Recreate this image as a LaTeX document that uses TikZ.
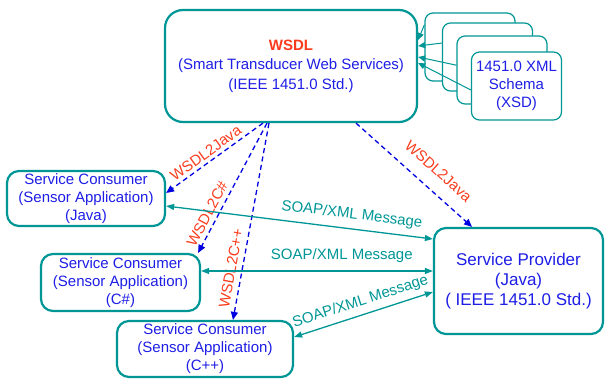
\documentclass[tikz,border=0pt]{standalone}
\usepackage{fontspec}
\setmainfont{Liberation Sans}
\usetikzlibrary{arrows.meta}
\definecolor{teal1}{RGB}{0,150,150}
\definecolor{txtblue}{RGB}{30,30,230}
\definecolor{dashblue}{RGB}{0,0,225}
\definecolor{lblred}{RGB}{250,60,30}
\begin{document}
\begin{tikzpicture}[x=1pt,y=-1pt,
  box/.style={draw=teal1, line width=2.2pt, fill=white, rounded corners=12pt, text=txtblue, align=center, inner sep=0pt, font=\fontsize{15}{18}\selectfont},
  xsd/.style={draw=teal1, line width=1.2pt, fill=white, rounded corners=8pt, minimum width=90pt, minimum height=68pt, inner sep=0pt, text=txtblue, align=center, font=\fontsize{15}{18}\selectfont},
  gen/.style={draw=dashblue, line width=1.3pt, dash pattern=on 5pt off 3.5pt, -{Triangle[length=8pt,width=7pt]}},
  soap/.style={draw=teal1, line width=1.3pt, {Triangle[length=8pt,width=6pt]}-{Triangle[length=8pt,width=6pt]}},
  genlbl/.style={text=lblred, font=\fontsize{15}{18}\selectfont, sloped},
  soaplbl/.style={text=teal1, font=\fontsize{15}{18}\selectfont, sloped},
  tipline/.style={-{Triangle[length=7pt,width=6pt]}, draw=teal1, line width=1pt}
]
\useasboundingbox (0,0) rectangle (605,379);

% WSDL box
\node[box, rounded corners=18pt, minimum width=252pt, minimum height=112pt, font=\fontsize{15}{19.5}\selectfont] (wsdl) at (291,66)
  {{\bfseries\color{lblred}WSDL}\\(Smart Transducer Web Services)\\(IEEE 1451.0 Std.)};

% XSD stack
\node[xsd] (s1) at (470,47) {};
\node[xsd] (s2) at (487.5,57) {};
\node[xsd] (s3) at (502,70) {};
\node[xsd] (s4) at (516.5,86) {1451.0 XML\\Schema\\(XSD)};
\draw[tipline] (s1.154) -- ([yshift=26pt]wsdl.east);
\draw[tipline] (s2.163) -- ([yshift=20pt]wsdl.east);
\draw[tipline] (s3.174) -- ([yshift=9pt]wsdl.east);
\draw[tipline] (s4.185) -- ([yshift=3pt]wsdl.east);

% consumers and provider
\node[box, minimum width=158pt, minimum height=55pt] (cj) at (86,198.5) {Service Consumer\\(Sensor Application)\\(Java)};
\node[box, minimum width=159pt, minimum height=57pt] (cc) at (120.5,282.5) {Service Consumer\\(Sensor Application)\\(C\#)};
\node[box, minimum width=176pt, minimum height=56pt] (cpp) at (205,349) {Service Consumer\\(Sensor Application)\\(C++)};
\node[box, minimum width=169pt, minimum height=106pt, font=\fontsize{17}{20}\selectfont] (prov) at (518.5,281) {Service Provider\\(Java)\\( IEEE 1451.0 Std.)};

% generation arrows
\draw[gen] ([xshift=-28pt]wsdl.south) -- ([yshift=5.5pt]cj.east)
  node[genlbl, pos=0.535, above] (g1) {WSDL2Java};
\draw[gen] ([xshift=-24pt]wsdl.south) -- ([xshift=-3pt]cc.north east)
  node[genlbl, pos=0.736, above=1pt] (g2) {WSDL2C\#};
\draw[gen] ([xshift=-22pt]wsdl.south) -- ([xshift=28pt]cpp.north)
  node[genlbl, pos=0.748, above=2pt] (g3) {WSDL2C++};
\draw[gen] ([xshift=65pt]wsdl.south) -- ([xshift=-46.5pt]prov.north)
  node[genlbl, pos=0.60, above=10pt] (g4) {WSDL2Java};

% SOAP messages
\draw[soap] ([yshift=-7.5pt]cj.east) -- ([yshift=42pt]prov.west)
  node[soaplbl, pos=0.69, above=3pt] (m1) {SOAP/XML Message};
\draw[soap] ([yshift=11.5pt]cc.east) -- ([yshift=10pt]prov.west)
  node[soaplbl, pos=0.607, above=4pt] (m2) {SOAP/XML Message};
\draw[soap] ([yshift=12pt]cpp.east) -- ([yshift=-11pt]prov.west)
  node[soaplbl, pos=0.507, above=2pt] (m3) {SOAP/XML Message};
\end{tikzpicture}
\end{document}
